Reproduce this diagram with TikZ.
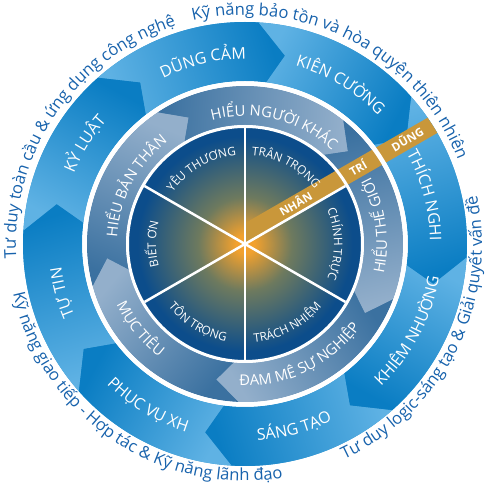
\documentclass[tikz,border=0pt]{standalone}
\usepackage{fontspec}
\setmainfont{Open Sans}
\usetikzlibrary{decorations.text}
\definecolor{ringlight}{HTML}{5FB2E4}
\definecolor{ringdark}{HTML}{0A7DC3}
\definecolor{ringmid}{HTML}{2F95D3}
\definecolor{midlight}{HTML}{93AFCB}
\definecolor{middark}{HTML}{3B71A0}
\definecolor{midbase}{HTML}{6690B8}
\definecolor{corenavy}{HTML}{0C4D8B}
\definecolor{coremix}{HTML}{6E7A5E}
\definecolor{coreorange}{HTML}{F2A12E}
\definecolor{bandgold}{HTML}{C9973A}
\definecolor{arcblue}{HTML}{1762AC}
\pgfdeclareradialshading{coreglow}{\pgfpoint{0bp}{0bp}}{color(0bp)=(coreorange); color(2bp)=(coreorange); color(10bp)=(coremix); color(23bp)=(corenavy); color(50bp)=(corenavy)}
% outer ring arrow, back angle #1
\def\outerseg(#1){%
  \pgfmathsetmacro\fa{#1-45}\pgfmathsetmacro\sa{#1-22.5-180}
  \shade[top color=ringdark, bottom color=ringlight, shading angle=\sa]
    (#1+2:222) arc[start angle=#1+2, end angle=\fa+2, radius=222] -- (\fa-6.5:192.5) -- (\fa-2:163)
    arc[start angle=\fa-2, end angle=#1-2, radius=163] -- (#1-6.5:192.5) -- cycle;}
% middle ring arrow, back angle #1
\def\midseg(#1){%
  \pgfmathsetmacro\fa{#1-72}\pgfmathsetmacro\sa{#1-36-180}
  \shade[top color=midlight, bottom color=middark, shading angle=\sa]
    (#1+1.5:158) arc[start angle=#1+1.5, end angle=\fa+1.5, radius=158] -- (\fa-8:138.5) -- (\fa-1.5:119)
    arc[start angle=\fa-1.5, end angle=#1-1.5, radius=119] -- (#1-8:138.5) -- cycle;}
% text on an arc: #1 centre angle, #2 radius, #3 text, #4 format
\newcommand\cwtext[4]{\path[decorate, decoration={text along path, text align=center, text={|#4|#3}}]
  (#1+70:#2) arc[start angle=#1+70, end angle=#1-70, radius=#2];}
\newcommand\ccwtext[4]{\path[decorate, decoration={text along path, text align=center, text={|#4|#3}}]
  (#1-70:#2) arc[start angle=#1-70, end angle=#1+70, radius=#2];}
\def\arcfont{\fontsize{16.6}{18}\selectfont\color{arcblue}}
\def\ringfont{\fontsize{16}{18}\selectfont\color{white}}
\def\midfont{\fontsize{14.8}{16}\selectfont\color{white}}
\def\corefont{\fontsize{11.8}{13}\selectfont\color{white}}

\begin{document}
\begin{tikzpicture}[x=1pt, y=1pt, bandtext/.style={text=white, font=\bfseries\fontsize{11.5}{13}\selectfont, inner sep=0pt}]
  \useasboundingbox (-245,-243) rectangle (246,244);

  %%%%% OUTER RING %%%%%
  \fill[ringmid, even odd rule] (0,0) circle[radius=222] circle[radius=163];
  \outerseg(129.5)
  \outerseg(84.5)
  \outerseg(39.5)
  \outerseg(-5.5)
  \outerseg(-50.5)
  \outerseg(-95.5)
  \outerseg(-140.5)
  \outerseg(-185.5)

  %%%%% MIDDLE RING %%%%%
  \fill[midbase, even odd rule] (0,0) circle[radius=158] circle[radius=119];
  \midseg(194)
  \midseg(122)
  \midseg(50)
  \midseg(-22)
  \midseg(-94)

  %%%%% CORE %%%%%
  \shade[shading=coreglow] (0,0) circle[radius=117];

  % gold band
  \begin{scope}
    \clip (0,0) circle[radius=222];
    \fill[bandgold] (0,0) -- (0,20.8) -- (207.8,140.8) -- (207.8,120) -- cycle;
  \end{scope}

  \foreach \a in {30,90,...,330}
    \draw[white, line width=2.5] (0,0) -- (\a:116);
  \draw[white, line width=3] (0,0) circle[radius=117.5];
  \draw[white, line width=4.5] (0,0) circle[radius=160.5];

  \node[bandtext, rotate=30] (nhan) at (50.4,40.7) {NHÂN};
  \node[bandtext, rotate=30] (tri) at (112.8,76.7) {TRÍ};
  \node[bandtext, rotate=30] (dung) at (162.1,105.2) {DŨNG};

  % core labels
  \cwtext{120}{89}{YÊU THƯƠNG}{\corefont}
  \cwtext{62}{89}{TRÂN TRỌNG}{\corefont}
  \cwtext{0}{89}{CHÍNH TRỰC}{\corefont}
  \ccwtext{-62}{99}{TRÁCH NHIỆM}{\corefont}
  \ccwtext{-121}{99}{TÔN TRỌNG}{\corefont}
  \cwtext{180}{89}{BIẾT ƠN}{\corefont}

  % middle labels
  \cwtext{152}{128}{HIỂU BẢN THÂN}{\midfont}
  \cwtext{76}{128}{HIỂU NGƯỜI KHÁC}{\midfont}
  \ccwtext{8}{142}{HIỂU THẾ GIỚI}{\midfont}
  \ccwtext{-64}{142}{ĐAM MÊ SỰ NGHIỆP}{\midfont}
  \ccwtext{-141}{142}{MỤC TIÊU}{\midfont}

  % outer labels
  \cwtext{103}{185}{DŨNG CẢM}{\ringfont}
  \cwtext{59}{185}{KIÊN CƯỜNG}{\ringfont}
  \cwtext{15}{185}{THÍCH NGHI}{\ringfont}
  \ccwtext{-28}{197}{KHIÊM NHƯỜNG}{\ringfont}
  \ccwtext{-75}{197}{SÁNG TẠO}{\ringfont}
  \ccwtext{-121}{197}{PHỤC VỤ XH}{\ringfont}
  \cwtext{195}{185}{TỰ TIN}{\ringfont}
  \cwtext{148}{185}{KỶ LUẬT}{\ringfont}

  % skills round the wheel
  \cwtext{62.3}{229}{Kỹ năng bảo tồn và hòa quyện thiên nhiên}{\arcfont}
  \cwtext{145.5}{229}{Tư duy toàn cầu {\&} ứng dụng công nghệ}{\arcfont}
  \ccwtext{235.7}{237}{Kỹ năng giao tiếp - Hợp tác {\&} Kỹ năng lãnh đạo}{\arcfont}
  \ccwtext{-26.7}{237}{Tư duy logic-sáng tạo {\&} Giải quyết vấn đề}{\arcfont}
\end{tikzpicture}
\end{document}
